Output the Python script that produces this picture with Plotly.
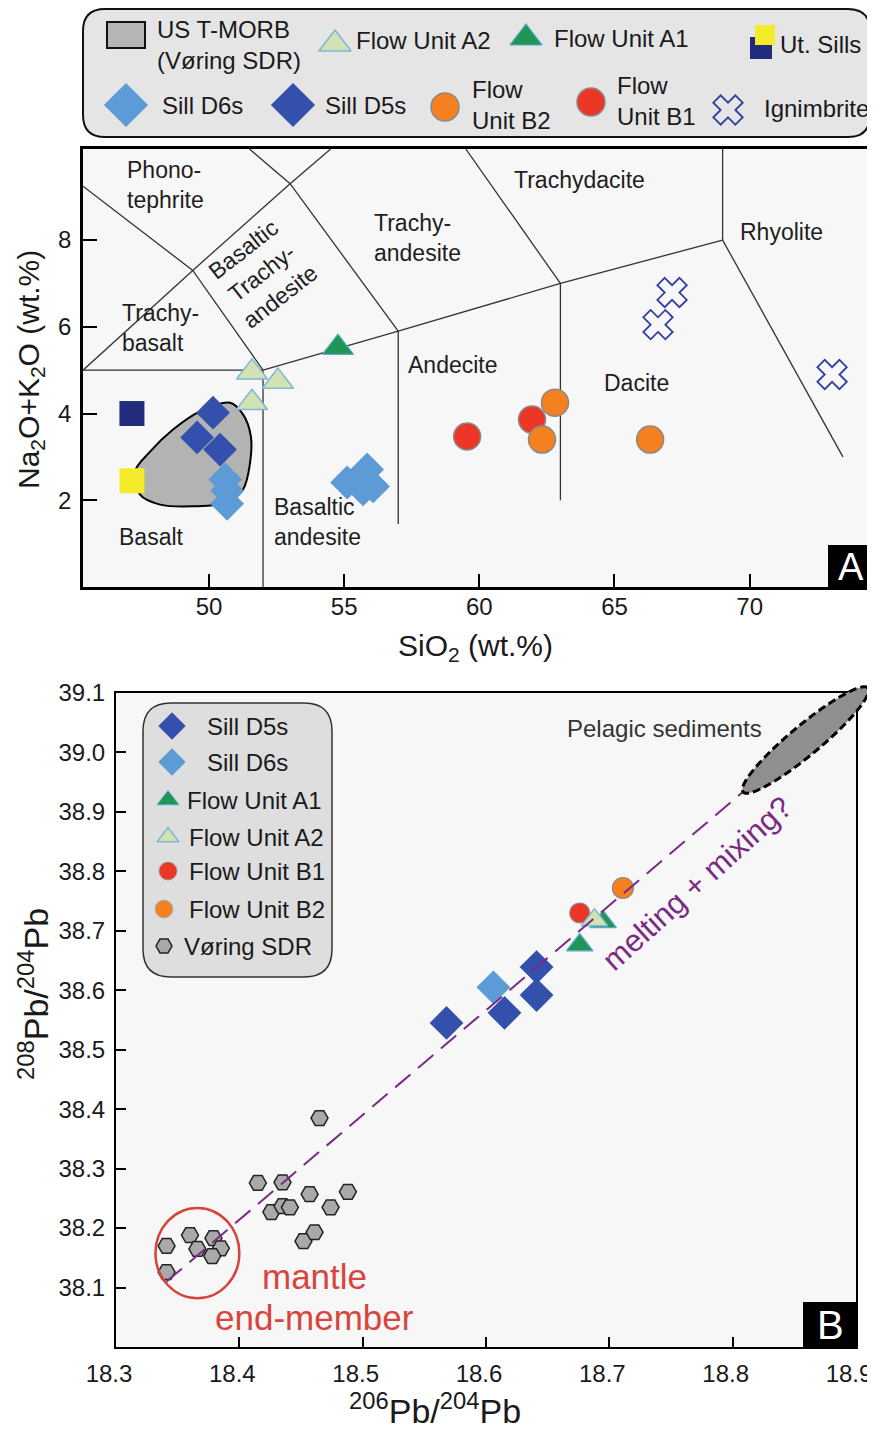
import numpy as np
import plotly.graph_objects as go

# page is shown with the browser's 8px body margin: size the figure so it fits the window
W, H = 875, 1429
OFF = 8
FW, FH = W - OFF, H - OFF
FONT = "Liberation Sans, Arial, Helvetica, sans-serif"

# ---------------- Panel A : TAS diagram data ----------------
tmorb_x = [47.26, 47.45, 48.19, 49.41, 50.67, 51.26, 51.52, 51.55, 51.26, 50.78, 49.67, 48.67, 47.82, 47.26]
tmorb_y = [2.66, 2.13, 1.90, 1.86, 1.95, 2.25, 2.87, 3.47, 3.98, 4.25, 4.05, 3.63, 3.12, 2.66]

ut_navy_x, ut_navy_y = [47.15], [4.0]
ut_yel_x, ut_yel_y = [47.15], [2.45]
d5_x = [50.15, 49.56, 50.41]
d5_y = [4.02, 3.45, 3.17]
d6_x = [50.60, 50.67, 50.67, 55.85, 55.70, 55.11, 56.07]
d6_y = [2.48, 2.22, 1.92, 2.71, 2.25, 2.41, 2.32]
a2_x = [51.59, 52.55, 51.59]
a2_y = [4.95, 4.74, 4.25]
a1_x = [54.77]
a1_y = [5.52]
b1_x = [59.55, 61.95]
b1_y = [3.47, 3.86]
b2_x = [62.80, 62.32, 66.32]
b2_y = [4.25, 3.40, 3.40]
ign_x = [67.13, 66.61, 73.05]
ign_y = [6.79, 6.05, 4.90]

# TAS classification boundaries (polylines)
tas_lines = [
    [(45.34, 5.0), (52.0, 5.0)],
    [(52.0, 0.0), (52.0, 5.0)],
    [(52.0, 5.0), (57.0, 5.9), (63.0, 7.0), (69.0, 8.0)],
    [(57.0, 1.45), (57.0, 5.9)],
    [(63.0, 2.0), (63.0, 7.0)],
    [(69.0, 8.0), (69.0, 10.1)],
    [(69.0, 8.0), (73.45, 3.0)],
    [(45.34, 9.24), (49.4, 7.3), (52.0, 5.0)],
    [(45.34, 5.0), (49.4, 7.3), (53.0, 9.3), (54.5, 10.1)],
    [(51.5, 10.1), (53.0, 9.3), (57.0, 5.9)],
    [(59.5, 10.1), (63.0, 7.0)],
]

tas_labels = ["Phono-<br>tephrite", "Trachy-<br>basalt", "Basaltic<br>Trachy-<br>andesite",
              "Trachy-<br>andesite", "Trachydacite", "Rhyolite", "Andecite", "Dacite",
              "Basalt", "Basaltic<br>andesite"]
tas_label_x = [46.89, 46.71, 51.95, 56.03, 63.72, 71.18, 59.02, 65.82, 47.89, 52.33]
tas_label_y = [9.26, 5.98, 7.25, 8.05, 9.38, 8.18, 5.13, 4.71, 1.15, 1.49]

# ---------------- Panel B : Pb isotope data ----------------
sdr_x = [18.341, 18.341, 18.360, 18.366, 18.379, 18.385, 18.378, 18.415, 18.435,
         18.426, 18.435, 18.441, 18.457, 18.474, 18.488, 18.452, 18.461, 18.465]
sdr_y = [38.170, 38.126, 38.188, 38.165, 38.183, 38.166, 38.153, 38.276, 38.277,
         38.227, 38.237, 38.235, 38.257, 38.235, 38.261, 38.178, 38.193, 38.385]
pb_d5_x = [18.568, 18.615, 18.641, 18.641]
pb_d5_y = [38.545, 38.562, 38.592, 38.639]
pb_d6_x = [18.606]
pb_d6_y = [38.605]
pb_a1_x = [18.676, 18.695]
pb_a1_y = [38.676, 38.715]
pb_a2_x = [18.688]
pb_a2_y = [38.718]
pb_b1_x = [18.676]
pb_b1_y = [38.730]
pb_b2_x = [18.711]
pb_b2_y = [38.772]

mix_line_x = [18.341, 18.808]
mix_line_y = [38.110, 38.933]
pelagic_tips_x = [18.8084, 18.9097]
pelagic_tips_y = [38.9335, 39.1084]
mantle_circle_x = [18.332, 18.400]
mantle_circle_y = [38.082, 38.234]

x_ticks_a = [50, 55, 60, 65, 70]
y_ticks_a = [2, 4, 6, 8]
x_ticks_b = [18.3, 18.4, 18.5, 18.6, 18.7, 18.8, 18.9]
y_ticks_b = [38.1, 38.2, 38.3, 38.4, 38.5, 38.6, 38.7, 38.8, 38.9, 39.0, 39.1]

# ---------------- styles ----------------
C_D5 = "#3450ad"
C_D6 = "#5c9bd6"
C_A1 = "#1f9655"
C_A2 = "#d2e2b2"
C_B1 = "#ec3626"
C_B2 = "#f4801f"
C_IGN = "#2f3f9e"
C_UTN = "#222b7c"
C_UTY = "#f4ec2a"
C_HEX = "#a9a9a9"


def px(x):
    return (x - OFF) / FW


def py(y):
    return 1 - (y - OFF) / FH


TOP_X = [px(83), px(874)]
TOP_Y = [py(587), py(149)]
BOT_X = [px(116), px(856)]
BOT_Y = [py(1347), py(693)]

fig = go.Figure()

# ---- Panel A traces ----
fig.add_trace(go.Scatter(x=tmorb_x, y=tmorb_y, mode="lines", fill="toself", fillcolor="#b3b3b3",
                         line=dict(color="black", width=2, shape="spline", smoothing=1.0),
                         name="US T-MORB (Vøring SDR)", xaxis="x", yaxis="y", showlegend=False,
                         hoverinfo="skip"))
lx, ly = [], []
for seg in tas_lines:
    for (a, b) in seg:
        lx.append(a)
        ly.append(b)
    lx.append(None)
    ly.append(None)
fig.add_trace(go.Scatter(x=lx, y=ly, mode="lines", line=dict(color="#333333", width=1.3),
                         xaxis="x", yaxis="y", showlegend=False, hoverinfo="skip"))


def mk(x, y, name, symbol, size, color, lcolor=None, lwidth=0, xa="x", ya="y"):
    return go.Scatter(x=x, y=y, mode="markers", name=name, xaxis=xa, yaxis=ya, showlegend=False,
                      marker=dict(symbol=symbol, size=size, color=color,
                                  line=dict(color=lcolor or color, width=lwidth)))


fig.add_trace(mk(ut_navy_x, ut_navy_y, "Ut. Sills", "square", 25, C_UTN))
fig.add_trace(mk(ut_yel_x, ut_yel_y, "Ut. Sills", "square", 25, C_UTY))
fig.add_trace(mk(d5_x, d5_y, "Sill D5s", "diamond", 26, C_D5))
fig.add_trace(mk(d6_x, d6_y, "Sill D6s", "diamond", 26, C_D6))
fig.add_trace(mk(a2_x, a2_y, "Flow Unit A2", "triangle-up", 27, C_A2, "#7fb8d8", 1.5))
fig.add_trace(mk(a1_x, a1_y, "Flow Unit A1", "triangle-up", 27, C_A1, "#5aa9c9", 1.2))
fig.add_trace(mk(b1_x, b1_y, "Flow Unit B1", "circle", 27, C_B1, "#8a8a8a", 1.5))
fig.add_trace(mk(b2_x, b2_y, "Flow Unit B2", "circle", 27, C_B2, "#8a8a8a", 1.5))
fig.add_trace(go.Scatter(x=ign_x, y=ign_y, mode="markers", name="Ignimbrite", showlegend=False,
                         marker=dict(symbol="x-open", size=26, color=C_IGN, line=dict(color=C_IGN, width=1.8)),
                         xaxis="x", yaxis="y"))

# ---- Panel B traces ----
fig.add_trace(mk(sdr_x, sdr_y, "Vøring SDR", "hexagon2", 17, C_HEX, "#222222", 1.5, "x2", "y2"))
fig.add_trace(mk(pb_d5_x, pb_d5_y, "Sill D5s", "diamond", 26, C_D5, xa="x2", ya="y2"))
fig.add_trace(mk(pb_d6_x, pb_d6_y, "Sill D6s", "diamond", 26, C_D6, xa="x2", ya="y2"))
fig.add_trace(mk(pb_b1_x, pb_b1_y, "Flow Unit B1", "circle", 20, C_B1, "#8a8a8a", 1.2, "x2", "y2"))
fig.add_trace(mk(pb_a1_x, pb_a1_y, "Flow Unit A1", "triangle-up", 23, C_A1, "#5aa9c9", 1.2, "x2", "y2"))
fig.add_trace(mk(pb_b2_x, pb_b2_y, "Flow Unit B2", "circle", 21, C_B2, "#8a8a8a", 1.2, "x2", "y2"))
fig.add_trace(mk(pb_a2_x, pb_a2_y, "Flow Unit A2", "triangle-up", 23, C_A2, "#7fb8d8", 1.5, "x2", "y2"))
fig.add_trace(go.Scatter(x=mix_line_x, y=mix_line_y, mode="lines", xaxis="x2", yaxis="y2",
                         line=dict(color="#7b2a84", width=2, dash="20px,10px"),
                         showlegend=False, hoverinfo="skip", name="melting + mixing"))

# ---- manual legends (overlay axis in window pixel units) ----
top_leg_items = [
    ("Flow Unit A2", "triangle-up", 28, C_A2, "#7fb8d8", 1.5, 335, 44),
    ("Flow Unit A1", "triangle-up", 28, C_A1, "#5aa9c9", 1.2, 526, 38),
    ("Ut. Sills", "square", 22, C_UTN, C_UTN, 0, 761, 48),
    ("Ut. Sills", "square", 20, C_UTY, C_UTY, 0, 765, 35),
    ("Sill D6s", "diamond", 34, C_D6, C_D6, 0, 126, 105),
    ("Sill D5s", "diamond", 34, C_D5, C_D5, 0, 293, 105),
    ("Flow Unit B2", "circle", 28, C_B2, "#8a8a8a", 1.5, 445, 107),
    ("Flow Unit B1", "circle", 28, C_B1, "#8a8a8a", 1.5, 591, 102),
    ("Ignimbrite", "x-open", 26, C_IGN, C_IGN, 1.8, 728, 110),
]
bot_leg_items = [
    ("Sill D5s", "diamond", 21, C_D5, C_D5, 0, 172, 726),
    ("Sill D6s", "diamond", 21, C_D6, C_D6, 0, 172, 762),
    ("Flow Unit A1", "triangle-up", 19, C_A1, "#5aa9c9", 1, 168, 800),
    ("Flow Unit A2", "triangle-up", 19, C_A2, "#7fb8d8", 1.5, 168, 837),
    ("Flow Unit B1", "circle", 18, C_B1, "#9a9a9a", 1, 168, 871),
    ("Flow Unit B2", "circle", 18, C_B2, "#9ab8d8", 1, 164, 909),
    ("Vøring SDR", "hexagon2", 16, C_HEX, "#222222", 1.5, 164, 946),
]
for (nm, sym, sz, col, lc, lw, lxp, lyp) in top_leg_items + bot_leg_items:
    fig.add_trace(go.Scatter(x=[lxp], y=[lyp], mode="markers", xaxis="x3", yaxis="y3", showlegend=False,
                             hoverinfo="skip", name=nm,
                             marker=dict(symbol=sym, size=sz, color=col, line=dict(color=lc, width=lw))))

top_leg_text = [
    ("US T-MORB<br>(Vøring SDR)", 155, 45),
    ("Flow Unit A2", 354, 40),
    ("Flow Unit A1", 552, 38),
    ("Ut. Sills", 778, 44),
    ("Sill D6s", 160, 105),
    ("Sill D5s", 323, 105),
    ("Flow<br>Unit B2", 470, 105),
    ("Flow<br>Unit B1", 615, 101),
    ("Ignimbrite", 762, 108),
]
bot_leg_text = [
    ("Sill D5s", 205, 726),
    ("Sill D6s", 205, 762),
    ("Flow Unit A1", 185, 800),
    ("Flow Unit A2", 187, 837),
    ("Flow Unit B1", 187, 871),
    ("Flow Unit B2", 187, 909),
    ("Vøring SDR", 182, 946),
]

annotations = []
for (t, xx, yy) in top_leg_text + bot_leg_text:
    annotations.append(dict(text=t, x=xx, y=yy, xref="x3", yref="y3", xanchor="left", yanchor="middle",
                            align="left", showarrow=False, font=dict(size=24, color="#1a1a1a", family=FONT)))

# TAS field labels
for t, xx, yy in zip(tas_labels, tas_label_x, tas_label_y):
    rotated = t.startswith("Basaltic<br>Trachy")
    left = ("<br>" in t) and not rotated
    annotations.append(dict(text=t, x=xx, y=yy, xref="x", yref="y", showarrow=False,
                            xanchor="left" if left else "center", yanchor="middle",
                            align="left" if left else "center",
                            textangle=-38 if rotated else 0,
                            font=dict(size=23, color="#1e1e1e", family=FONT)))


def ann(text, x, y, xref, yref, size, color, angle=0):
    return dict(text=text, x=x, y=y, xref=xref, yref=yref, showarrow=False, xanchor="center",
                yanchor="middle", textangle=angle, font=dict(size=size, color=color, family=FONT))


# Panel B text
annotations += [
    ann("Pelagic sediments", 18.745, 39.041, "x2", "y2", 24, "#333333"),
    ann("melting + mixing?", 18.771, 38.78, "x2", "y2", 31, "#7b2a84", -42),
    ann("mantle", 18.461, 38.118, "x2", "y2", 35, "#d9453c"),
    ann("end-member", 18.461, 38.049, "x2", "y2", 35, "#d9453c"),
]

# Axis titles
annotations += [
    ann("SiO<sub>2</sub> (wt.%)", px(475), py(648), "paper", "paper", 30, "#1a1a1a"),
    ann("Na<sub>2</sub>O+K<sub>2</sub>O (wt.%)", px(30), py(370), "paper", "paper", 30, "#1a1a1a", -90),
    ann("<sup>206</sup>Pb/<sup>204</sup>Pb", px(435), py(1408), "paper", "paper", 34, "#1a1a1a"),
    ann("<sup>208</sup>Pb/<sup>204</sup>Pb", px(33), py(994), "paper", "paper", 34, "#1a1a1a", -90),
]

# Panel letters
annotations += [
    ann("A", px(851), py(567), "paper", "paper", 38, "white"),
    ann("B", px(830), py(1325), "paper", "paper", 40, "white"),
]


def rrect(x0, y0, x1, y1, r):
    pts = [
        f"M{px(x0 + r)},{py(y0)}", f"L{px(x1 - r)},{py(y0)}", f"Q{px(x1)},{py(y0)} {px(x1)},{py(y0 + r)}",
        f"L{px(x1)},{py(y1 - r)}", f"Q{px(x1)},{py(y1)} {px(x1 - r)},{py(y1)}",
        f"L{px(x0 + r)},{py(y1)}", f"Q{px(x0)},{py(y1)} {px(x0)},{py(y1 - r)}",
        f"L{px(x0)},{py(y0 + r)}", f"Q{px(x0)},{py(y0)} {px(x0 + r)},{py(y0)}", "Z"]
    return " ".join(pts)


shapes = [
    dict(type="rect", xref="paper", yref="paper", x0=TOP_X[0], x1=TOP_X[1], y0=TOP_Y[0], y1=TOP_Y[1],
         fillcolor="#f7f7f7", line=dict(width=0), layer="below"),
    dict(type="rect", xref="paper", yref="paper", x0=BOT_X[0], x1=BOT_X[1], y0=BOT_Y[0], y1=BOT_Y[1],
         fillcolor="#f7f7f7", line=dict(width=0), layer="below"),
    dict(type="path", xref="paper", yref="paper", path=rrect(83, 9, 870, 137, 22),
         fillcolor="#e5e5e5", line=dict(color="#111111", width=2), layer="below"),
    dict(type="path", xref="paper", yref="paper", path=rrect(143, 703, 332, 977, 28),
         fillcolor="#dedede", line=dict(color="#333333", width=1.5), layer="below"),
    dict(type="rect", xref="paper", yref="paper", x0=px(107), x1=px(145), y0=py(48), y1=py(22),
         fillcolor="#b5b5b5", line=dict(color="#111111", width=2), layer="below"),
    dict(type="rect", xref="paper", yref="paper", x0=px(828), x1=TOP_X[1], y0=TOP_Y[0], y1=py(545),
         fillcolor="black", line=dict(width=0), layer="above"),
    dict(type="rect", xref="paper", yref="paper", x0=px(803), x1=BOT_X[1], y0=BOT_Y[0], y1=py(1302),
         fillcolor="black", line=dict(width=0), layer="above"),
    dict(type="circle", xref="x2", yref="y2", x0=mantle_circle_x[0], x1=mantle_circle_x[1],
         y0=mantle_circle_y[0], y1=mantle_circle_y[1], line=dict(color="#d5443b", width=2.5), layer="above"),
]

# Pelagic-sediment ellipse (defined by its two tips in data units)
bw = (BOT_X[1] - BOT_X[0]) * FW
bh = (BOT_Y[1] - BOT_Y[0]) * FH
xr_b = [18.3, 18.9]
yr_b = [38.0, 39.1]


def to_dom_px(x, y):
    return ((x - xr_b[0]) / (xr_b[1] - xr_b[0]) * bw, (y - yr_b[0]) / (yr_b[1] - yr_b[0]) * bh)


p1 = to_dom_px(pelagic_tips_x[0], pelagic_tips_y[0])
p2 = to_dom_px(pelagic_tips_x[1], pelagic_tips_y[1])
cx, cy = (p1[0] + p2[0]) / 2, (p1[1] + p2[1]) / 2
semi_a = np.hypot(p2[0] - p1[0], p2[1] - p1[1]) / 2
semi_b = 15.0
ang = np.arctan2(p2[1] - p1[1], p2[0] - p1[0])
tt = np.linspace(0, 2 * np.pi, 73)
ex = cx + semi_a * np.cos(tt) * np.cos(ang) - semi_b * np.sin(tt) * np.sin(ang)
ey = cy + semi_a * np.cos(tt) * np.sin(ang) + semi_b * np.sin(tt) * np.cos(ang)
ell_path = "M" + " L".join(f"{a / bw:.5f},{b / bh:.5f}" for a, b in zip(ex, ey)) + " Z"
shapes.append(dict(type="path", xref="x2 domain", yref="y2 domain", path=ell_path,
                   fillcolor="#8f8f8f", line=dict(color="black", width=3, dash="8px,4px"), layer="above"))

axis_common = dict(showline=True, linecolor="black", mirror=True, showgrid=False, zeroline=False,
                   automargin=False, ticklabeloverflow="allow",
                   ticks="inside", tickcolor="black", tickfont=dict(size=24, color="#1a1a1a", family=FONT))

fig.update_layout(
    width=FW, height=FH,
    margin=dict(l=0, r=0, t=0, b=0, pad=0, autoexpand=False),
    paper_bgcolor="white",
    plot_bgcolor="rgba(0,0,0,0)",
    font=dict(family=FONT, color="#1a1a1a"),
    showlegend=False,
    xaxis=dict(domain=TOP_X, anchor="y", range=[45.34, 74.6], tickvals=x_ticks_a,
               ticktext=[str(v) for v in x_ticks_a], ticklen=13, tickwidth=2, linewidth=2.5,
               ticklabelstandoff=-4, **axis_common),
    yaxis=dict(domain=TOP_Y, anchor="x", range=[0, 10.1], tickvals=y_ticks_a,
               ticktext=[str(v) for v in y_ticks_a], ticklen=14, tickwidth=2, linewidth=2.5,
               ticklabelstandoff=4, **axis_common),
    xaxis2=dict(domain=BOT_X, anchor="y2", range=xr_b, tickvals=x_ticks_b,
                ticktext=[f"{v:.1f}" for v in x_ticks_b], ticklen=10, tickwidth=1.5, linewidth=2,
                ticklabelstandoff=4, ticklabelshift=-7, **axis_common),
    yaxis2=dict(domain=BOT_Y, anchor="x2", range=yr_b, tickvals=y_ticks_b,
                ticktext=[f"{v:.1f}" for v in y_ticks_b], ticklen=10, tickwidth=1.5, linewidth=2,
                ticklabelstandoff=4, **axis_common),
    xaxis3=dict(domain=[0, 1], anchor="y3", range=[OFF, W], visible=False, fixedrange=True, automargin=False),
    yaxis3=dict(domain=[0, 1], anchor="x3", range=[H, OFF], visible=False, fixedrange=True, automargin=False),
    shapes=shapes,
    annotations=annotations,
)

fig.write_html("out.html")
